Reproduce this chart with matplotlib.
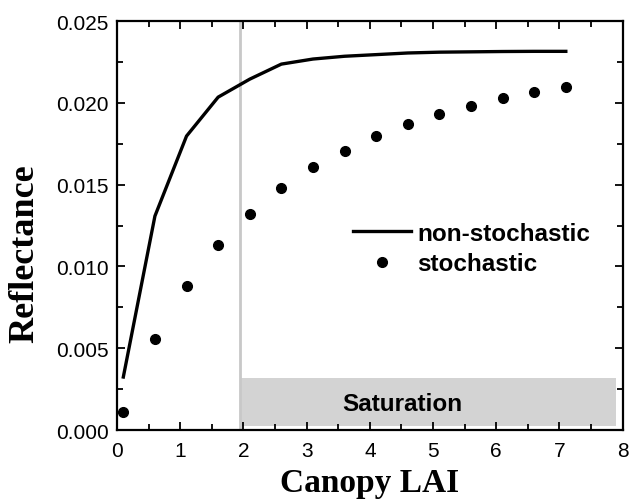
import numpy as np
import matplotlib.pyplot as plt
from matplotlib.patches import Rectangle
from matplotlib.ticker import MultipleLocator

# Canopy LAI sample points and modelled reflectance
lai = [0.1, 0.6, 1.1, 1.6, 2.1, 2.6, 3.1, 3.6, 4.1, 4.6, 5.1, 5.6, 6.1, 6.6, 7.1]
refl_nonstoch = [0.00324, 0.01308, 0.01797, 0.02035, 0.02145, 0.02237, 0.02268, 0.02285,
                 0.02295, 0.02305, 0.02310, 0.02312, 0.02314, 0.02315, 0.02315]
refl_stoch = [0.0011, 0.00556, 0.00882, 0.01131, 0.0132, 0.01479, 0.01605, 0.01707,
              0.01795, 0.01868, 0.01932, 0.01983, 0.0203, 0.02068, 0.0210]

sat_start = 1.95
sat_end = 7.9
sat_top = 0.00318

sans = 'Liberation Sans'
serif = 'Liberation Serif'

fig = plt.figure(figsize=(6.29, 5.02), dpi=100)
ax = fig.add_axes([0.186, 0.1414, 0.804, 0.8146])

# saturation zone
ax.add_patch(Rectangle((sat_start, 0.00026), sat_end - sat_start, sat_top - 0.00026,
                       facecolor='#d3d3d3', edgecolor='none', zorder=1))
ax.axvline(sat_start, color='#c8c8c8', lw=2, zorder=1)
ax.text(4.52, 0.0016, 'Saturation', ha='center', va='center',
        fontsize=17.5, fontweight='bold', family=sans, zorder=2)

ax.plot(lai, refl_nonstoch, color='black', lw=2.4, label='non-stochastic', zorder=3)
ax.plot(lai, refl_stoch, 'o', color='black', ms=7, label='stochastic', zorder=3)

ax.set_xlim(0, 8)
ax.set_ylim(0, 0.025)
ax.xaxis.set_major_locator(MultipleLocator(1))
ax.xaxis.set_minor_locator(MultipleLocator(0.5))
ax.yaxis.set_major_locator(MultipleLocator(0.005))
ax.yaxis.set_minor_locator(MultipleLocator(0.0025))
ax.yaxis.set_major_formatter(plt.FormatStrFormatter('%.3f'))
ax.tick_params(which='both', direction='in', top=True, right=True, width=1.3)
ax.tick_params(which='major', length=6, labelsize=15)
ax.tick_params(axis='x', which='major', pad=8)
ax.tick_params(axis='y', which='major', pad=6)
ax.tick_params(which='minor', length=4)
for lbl in ax.get_xticklabels() + ax.get_yticklabels():
    lbl.set_family(sans)
for s in ax.spines.values():
    s.set_linewidth(1.6)

ax.set_xlabel('Canopy LAI', fontsize=24, fontweight='bold', family=serif, labelpad=5)
ax.set_ylabel('Reflectance', fontsize=26, fontweight='bold', family=serif)
ax.yaxis.set_label_coords(-0.150, 0.433)

ax.legend(loc='center left', bbox_to_anchor=(0.466, 0.444), frameon=False,
          prop={'family': sans, 'weight': 'bold', 'size': 17.5},
          handlelength=2.4, handletextpad=0.25, labelspacing=0.32,
          borderpad=0, borderaxespad=0)

fig.savefig('out.png', dpi=100)
